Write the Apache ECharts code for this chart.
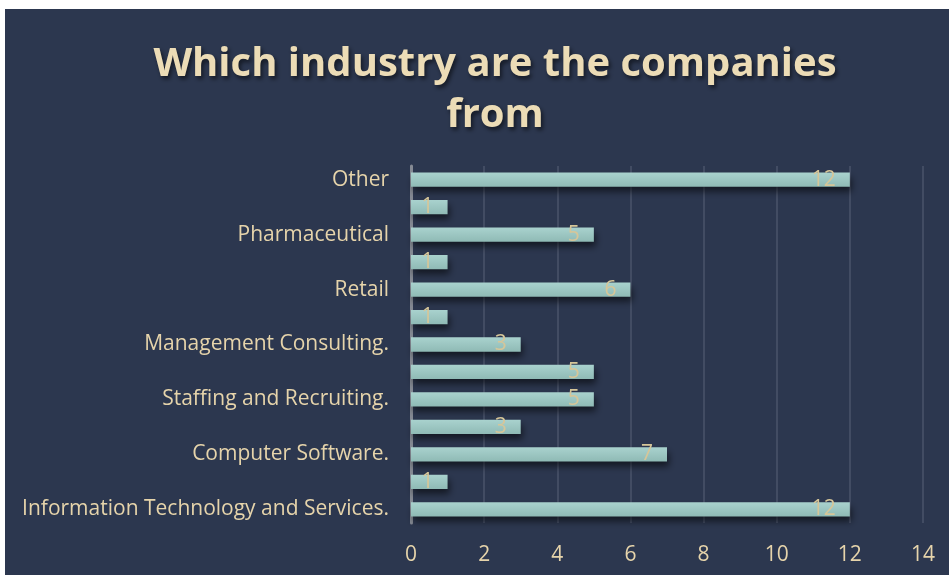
<!DOCTYPE html>
<html>
<head>
<meta charset="utf-8">
<script src="https://cdn.jsdelivr.net/npm/echarts@6/dist/echarts.min.js"></script>
<style>
  html, body { margin: 0; padding: 0; background: #ffffff; }
  #chart { position: absolute; left: 5px; top: 9px; width: 944px; height: 566px; }
</style>
</head>
<body>
<div id="chart"></div>
<script>
// Industries, bottom to top; unnamed rows have no visible axis label
const industries = [
  'Information Technology and Services.', '', 'Computer Software.', '',
  'Staffing and Recruiting.', '', 'Management Consulting.', '',
  'Retail', '', 'Pharmaceutical', '', 'Other'
];
const companyCounts = [12, 1, 7, 3, 5, 5, 3, 1, 6, 1, 5, 1, 12];
const titleText = 'Which industry are the companies\nfrom';

const ink = '#e6d4ab';
const bg = '#2c374f';
const font = '"Open Sans", "Noto Sans", sans-serif';

const chart = echarts.init(document.getElementById('chart'));
chart.setOption({
  backgroundColor: bg,
  animation: false,
  title: {
    text: titleText,
    left: 490,
    textAlign: 'center',
    top: 30,
    padding: 0,
    textStyle: {
      color: '#ecdcb6',
      fontFamily: font,
      fontWeight: 'bold',
      fontSize: 40,
      lineHeight: 51,
      textShadowColor: 'rgba(0,0,0,0.55)',
      textShadowBlur: 4,
      textShadowOffsetX: 2,
      textShadowOffsetY: 3
    }
  },
  grid: { left: 406, right: 26, top: 157, bottom: 52, containLabel: false },
  xAxis: {
    type: 'value',
    min: 0,
    max: 14,
    interval: 2,
    axisLine: { show: false },
    axisTick: { show: false },
    splitLine: { lineStyle: { color: '#424c63', width: 2 } },
    axisLabel: { color: ink, fontFamily: font, fontSize: 21, margin: 22 }
  },
  yAxis: {
    type: 'category',
    data: industries,
    axisLine: { show: true, lineStyle: { color: '#858a94', width: 3 } },
    axisTick: { show: false },
    axisLabel: {
      color: ink, fontFamily: font, fontSize: 21, margin: 22, interval: 0,
      padding: [3, 0, 0, 0]
    }
  },
  series: [{
    type: 'bar',
    data: companyCounts,
    barCategoryGap: '48%',
    itemStyle: {
      color: new echarts.graphic.LinearGradient(0, 0, 0, 1, [
        { offset: 0, color: '#a9d2ce' },
        { offset: 1, color: '#8fbab5' }
      ]),
      shadowColor: 'rgba(0,0,0,0.55)',
      shadowBlur: 7,
      shadowOffsetX: 2,
      shadowOffsetY: 5
    },
    label: {
      show: true,
      position: 'insideRight',
      distance: 14,
      color: '#d6c699',
      fontFamily: font,
      fontSize: 21,
      padding: [2, 0, 0, 0]
    }
  }]
});
</script>
</body>
</html>
